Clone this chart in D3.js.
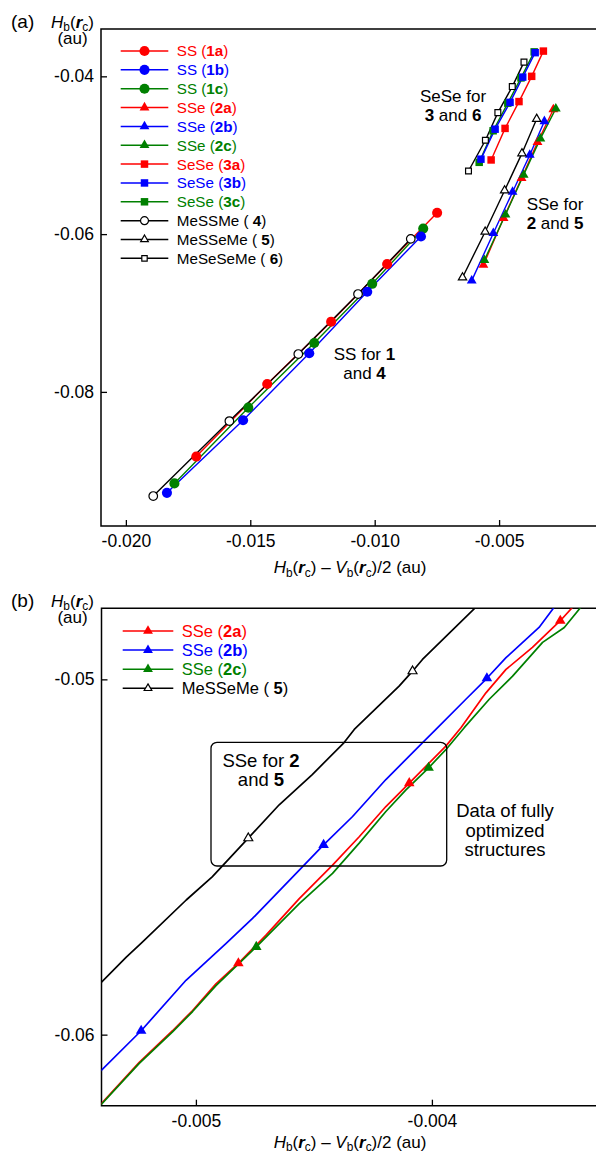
<!DOCTYPE html>
<html>
<head>
<meta charset="utf-8">
<script src="https://cdn.jsdelivr.net/npm/d3@7"></script>
<style>
body { margin: 0; background: #fff; }
text { font-family: "Liberation Sans", Arial, sans-serif; white-space: pre; }
</style>
</head>
<body>
<div id="chart"></div>
<script>
// ---- panel (a) data: [Hb - Vb/2, Hb] ----
var ss1a = [[-0.00749,-0.0573],[-0.00950,-0.0638],[-0.01175,-0.0711],[-0.01432,-0.0790],[-0.01717,-0.0882]];
var ss1b = [[-0.00814,-0.0603],[-0.01030,-0.0673],[-0.01263,-0.0751],[-0.01529,-0.0836],[-0.01835,-0.0928]];
var ss1c = [[-0.00805,-0.0593],[-0.01010,-0.0663],[-0.01243,-0.0738],[-0.01508,-0.0820],[-0.01805,-0.0916]];
var sse2a = [[-0.00282,-0.0442],[-0.003456,-0.04835],[-0.004096,-0.05292],[-0.00482,-0.05799],[-0.00563,-0.0639]];
var sse2b = [[-0.00318,-0.0457],[-0.003767,-0.04997],[-0.004459,-0.05466],[-0.005232,-0.05989],[-0.00610,-0.0659]];
var sse2c = [[-0.00272,-0.0441],[-0.00334,-0.0479],[-0.004014,-0.05249],[-0.004744,-0.05753],[-0.00559,-0.0633]];
var sese3a = [[-0.00322,-0.0368],[-0.00369,-0.0400],[-0.00420,-0.0432],[-0.00476,-0.0466],[-0.00532,-0.0506]];
var sese3b = [[-0.00355,-0.0370],[-0.00405,-0.0401],[-0.00456,-0.0433],[-0.00516,-0.0467],[-0.00573,-0.0505]];
var sese3c = [[-0.00359,-0.0369],[-0.00412,-0.0402],[-0.00465,-0.0434],[-0.00524,-0.0469],[-0.00580,-0.0509]];
var me4 = [[-0.00855,-0.0606],[-0.01067,-0.0676],[-0.01307,-0.0752],[-0.01584,-0.0837],[-0.01890,-0.0932]];
var me5 = [[-0.00349,-0.0454],[-0.004082,-0.04977],[-0.004778,-0.05447],[-0.00556,-0.0597],[-0.00647,-0.0655]];
var me6 = [[-0.00400,-0.0382],[-0.00447,-0.0413],[-0.00505,-0.0446],[-0.00555,-0.0481],[-0.00623,-0.0520]];

// ---- panel (b) curves (SSe) ----
var curve2a = [[-0.003404,-0.04797],[-0.003456,-0.04835],[-0.003574,-0.04910],[-0.003686,-0.04972],[-0.003771,-0.05038],
  [-0.003877,-0.05136],[-0.003941,-0.05188],[-0.004096,-0.05292],[-0.004195,-0.05358],[-0.004308,-0.05443],[-0.004421,-0.05523],
  [-0.004562,-0.05617],[-0.004703,-0.05720],[-0.00482,-0.05799],[-0.004915,-0.05857],[-0.005014,-0.05932],[-0.005099,-0.05989],
  [-0.005240,-0.06078],[-0.005403,-0.06196]];
var curve2b = [[-0.003482,-0.04797],[-0.003546,-0.04854],[-0.003686,-0.04939],[-0.003767,-0.04997],[-0.003856,-0.05056],
  [-0.003983,-0.05141],[-0.004033,-0.05174],[-0.004195,-0.05282],[-0.004336,-0.05386],[-0.004459,-0.05466],[-0.004562,-0.05537],
  [-0.004760,-0.05673],[-0.004873,-0.05744],[-0.005042,-0.05847],[-0.005232,-0.05989],[-0.005403,-0.06102]];
var curve2c = [[-0.003369,-0.04797],[-0.003439,-0.04854],[-0.003531,-0.04896],[-0.003658,-0.04991],[-0.003757,-0.05056],
  [-0.003863,-0.05136],[-0.003941,-0.05198],[-0.004014,-0.05249],[-0.004110,-0.05311],[-0.004195,-0.05372],[-0.004308,-0.05461],
  [-0.004421,-0.05546],[-0.004562,-0.05631],[-0.004744,-0.05753],[-0.004915,-0.05862],[-0.005014,-0.05935],[-0.005099,-0.05992],
  [-0.005240,-0.06081],[-0.005403,-0.06198]];
var curve5 = [[-0.003814,-0.04797],[-0.004040,-0.04944],[-0.004082,-0.04977],[-0.004139,-0.05019],[-0.004329,-0.05141],
  [-0.004372,-0.05178],[-0.004507,-0.05268],[-0.004647,-0.05353],[-0.004778,-0.05447],[-0.004931,-0.05556],[-0.005041,-0.05621],
  [-0.005228,-0.05740],[-0.005295,-0.05782],[-0.005401,-0.05853]];

var xTicksA = [-0.020, -0.015, -0.010, -0.005];
var yTicksA = [-0.04, -0.06, -0.08];
var xTicksB = [-0.005, -0.004];
var yTicksB = [-0.05, -0.06];

var RED = "#ff0000", BLUE = "#0000ff", GREEN = "#008000";

// series table: legend order
var seriesA = [
  {name: "SS (", id: "1a", data: ss1a, color: RED, shape: "circle"},
  {name: "SS (", id: "1b", data: ss1b, color: BLUE, shape: "circle"},
  {name: "SS (", id: "1c", data: ss1c, color: GREEN, shape: "circle"},
  {name: "SSe (", id: "2a", data: sse2a, color: RED, shape: "triangle"},
  {name: "SSe (", id: "2b", data: sse2b, color: BLUE, shape: "triangle"},
  {name: "SSe (", id: "2c", data: sse2c, color: GREEN, shape: "triangle"},
  {name: "SeSe (", id: "3a", data: sese3a, color: RED, shape: "square"},
  {name: "SeSe (", id: "3b", data: sese3b, color: BLUE, shape: "square"},
  {name: "SeSe (", id: "3c", data: sese3c, color: GREEN, shape: "square"},
  {name: "MeSSMe ( ", id: "4", data: me4, color: "#000", shape: "circle", open: true},
  {name: "MeSSeMe ( ", id: "5", data: me5, color: "#000", shape: "triangle", open: true},
  {name: "MeSeSeMe ( ", id: "6", data: me6, color: "#000", shape: "square", open: true}
];
var seriesB = [
  {name: "SSe (", id: "2a", data: sse2a, curve: curve2a, color: RED, shape: "triangle"},
  {name: "SSe (", id: "2b", data: sse2b, curve: curve2b, color: BLUE, shape: "triangle"},
  {name: "SSe (", id: "2c", data: sse2c, curve: curve2c, color: GREEN, shape: "triangle"},
  {name: "MeSSeMe ( ", id: "5", data: me5, curve: curve5, color: "#000", shape: "triangle", open: true}
];

var symType = {circle: d3.symbolCircle, triangle: d3.symbolTriangle, square: d3.symbolSquare};
var symSize = {circle: 80, triangle: 42, square: 56};
var openSize = {circle: 58, triangle: 30, square: 34};

function marker(sel, s, scale) {
  var size = (s.open ? openSize : symSize)[s.shape] * (scale || 1);
  sel.attr("d", d3.symbol().type(symType[s.shape]).size(size))
    .attr("fill", s.open ? "#fff" : s.color)
    .attr("stroke", s.open ? "#000" : "none")
    .attr("stroke-width", 1.2);
}

function rich(g, x, y, parts, size, anchor) {
  var t = g.append("text").attr("x", x).attr("y", y)
    .attr("font-size", size).attr("text-anchor", anchor || "middle");
  var shifted = false;
  parts.forEach(function(p) {
    var ts = t.append("tspan").text(p[0]);
    if (p[1] === "s") {
      ts.attr("font-size", size * 0.7);
      if (!shifted) ts.attr("dy", 3.5);
      shifted = true;
    } else {
      if (shifted) { ts.attr("dy", -3.5); shifted = false; }
      if (p[1] === "i" || p[1] === "bi") ts.attr("font-style", "italic");
      if (p[1] === "b" || p[1] === "bi") ts.attr("font-weight", "bold");
    }
  });
  return t;
}

var hbParts = [["H","i"],["b","s"],["(","n"],["r","bi"],["c","s"],[")","n"]];
var xLabParts = hbParts.concat([[" \u2013 ","n"],["V","i"],["b","s"],["(","n"],["r","bi"],["c","s"],[")/2 (au)","n"]]);

var svg = d3.select("#chart").append("svg")
  .attr("width", 596).attr("height", 1153);

function panel(opt) {
  var g = svg.append("g");
  var x = d3.scaleLinear().domain(opt.xDomain).range(opt.xRange);
  var y = d3.scaleLinear().domain(opt.yDomain).range(opt.yRange);
  var top = opt.yRange[1], bottom = opt.yRange[0], left = opt.xRange[0];

  var xa = g.append("g").attr("transform", "translate(0," + bottom + ")")
    .call(d3.axisBottom(x).tickValues(opt.xTicks).tickSizeInner(-6).tickSizeOuter(0)
      .tickPadding(9).tickFormat(function(d) { return d.toFixed(3); }));
  var ya = g.append("g").attr("transform", "translate(" + left + ",0)")
    .call(d3.axisLeft(y).tickValues(opt.yTicks).tickSizeInner(-6).tickSizeOuter(0)
      .tickPadding(7).tickFormat(function(d) { return d.toFixed(2); }));
  [xa, ya].forEach(function(a) {
    a.select(".domain").remove();
    a.selectAll("line").attr("stroke-width", 1.3);
    a.selectAll("text").attr("font-size", 17.5).attr("font-family", "Liberation Sans, Arial, sans-serif").attr("fill", "#000");
  });

  g.append("path")
    .attr("d", "M700," + top + "H" + left + "V" + bottom + "H700")
    .attr("fill", "none").attr("stroke", "#000").attr("stroke-width", 1.5);

  g.append("text").attr("x", 11).attr("y", top - 1).attr("font-size", 19).text(opt.tag);
  rich(g, 72.5, top - 1.5, hbParts, 17);
  g.append("text").attr("x", 72.5).attr("y", top + 15).attr("font-size", 17)
    .attr("text-anchor", "middle").text("(au)");
  rich(g, 350, bottom + opt.labOff, xLabParts, 17);

  return {g: g, x: x, y: y};
}

function legend(g, series, x0, y0, step, fs, len) {
  series.forEach(function(s, i) {
    var yy = y0 + i * step;
    g.append("line").attr("x1", x0).attr("x2", x0 + len).attr("y1", yy).attr("y2", yy)
      .attr("stroke", s.color).attr("stroke-width", 1.5);
    g.append("path").attr("transform", "translate(" + (x0 + len / 2) + "," + yy + ")")
      .call(marker, s, s.open ? 0.85 : 1);
    var t = g.append("text").attr("x", x0 + len + 8.5).attr("y", yy + fs * 0.36)
      .attr("font-size", fs).attr("fill", s.color);
    t.append("tspan").text(s.name);
    t.append("tspan").attr("font-weight", "bold").text(s.id);
    t.append("tspan").text(")");
  });
}

function note(g, cx, y, lines, fs, step) {
  lines.forEach(function(parts, i) {
    var t = g.append("text").attr("x", cx).attr("y", y + i * step)
      .attr("font-size", fs).attr("text-anchor", "middle");
    parts.forEach(function(p) {
      t.append("tspan").attr("font-weight", p[1] ? "bold" : null).text(p[0]);
    });
  });
}

// ---------- panel (a) ----------
var A = panel({xDomain: [-0.021, 0], xRange: [101, 623.5], yDomain: [-0.097, -0.034], yRange: [526, 29],
  xTicks: xTicksA, yTicks: yTicksA, tag: "(a)", labOff: 47});
var lineA = d3.line().x(function(d) { return A.x(d[0]); }).y(function(d) { return A.y(d[1]); });
var drawOrder = [0, 2, 1, 9, 3, 5, 4, 10, 6, 8, 7, 11];
drawOrder.forEach(function(i) {
  var s = seriesA[i];
  A.g.append("path").attr("d", lineA(s.data)).attr("fill", "none")
    .attr("stroke", s.color).attr("stroke-width", 1.4);
});
drawOrder.forEach(function(i) {
  var s = seriesA[i];
  A.g.append("g").selectAll("path").data(s.data).enter().append("path")
    .attr("transform", function(d) { return "translate(" + A.x(d[0]) + "," + A.y(d[1]) + ")"; })
    .call(marker, s);
});
legend(A.g, seriesA, 120.7, 51, 18.85, 15.2, 47.6);
note(A.g, 453, 102, [[["SeSe for"]], [["3", 1], [" and "], ["6", 1]]], 17, 19);
note(A.g, 555, 210, [[["SSe for"]], [["2", 1], [" and "], ["5", 1]]], 17, 19);
note(A.g, 364.5, 360, [[["SS for "], ["1", 1]], [["and "], ["4", 1]]], 17, 19);

// ---------- panel (b) ----------
var B = panel({xDomain: [-0.0054, -0.0033], xRange: [101.5, 597.1], yDomain: [-0.062, -0.048], yRange: [1105.7, 608.3],
  xTicks: xTicksB, yTicks: yTicksB, tag: "(b)", labOff: 42});
svg.append("clipPath").attr("id", "clipB").append("rect")
  .attr("x", 101.5).attr("y", 608.3).attr("width", 500).attr("height", 497.4);
var plotB = B.g.append("g").attr("clip-path", "url(#clipB)");
var lineB = d3.line().x(function(d) { return B.x(d[0]); }).y(function(d) { return B.y(d[1]); });
[3, 1, 0, 2].forEach(function(i) {
  var s = seriesB[i];
  plotB.append("path").attr("d", lineB(s.curve)).attr("fill", "none")
    .attr("stroke", s.color).attr("stroke-width", 1.7).attr("stroke-linejoin", "round");
});
[3, 1, 0, 2].forEach(function(i) {
  var s = seriesB[i];
  plotB.append("g").selectAll("path").data(s.data).enter().append("path")
    .attr("transform", function(d) { return "translate(" + B.x(d[0]) + "," + B.y(d[1]) + ")"; })
    .call(marker, s, 1.15);
});
legend(B.g, seriesB, 122.7, 631, 19.1, 16.5, 50.6);

B.g.append("rect").attr("x", 211).attr("y", 742.3).attr("width", 235.7).attr("height", 123.7)
  .attr("rx", 6).attr("fill", "none").attr("stroke", "#000").attr("stroke-width", 1.3);
note(B.g, 261, 767, [[["SSe for "], ["2", 1]], [["and "], ["5", 1]]], 18.5, 19);
note(B.g, 505, 817, [[["Data of fully"]], [["optimized"]], [["structures"]]], 18.5, 19.5);
</script>
</body>
</html>
